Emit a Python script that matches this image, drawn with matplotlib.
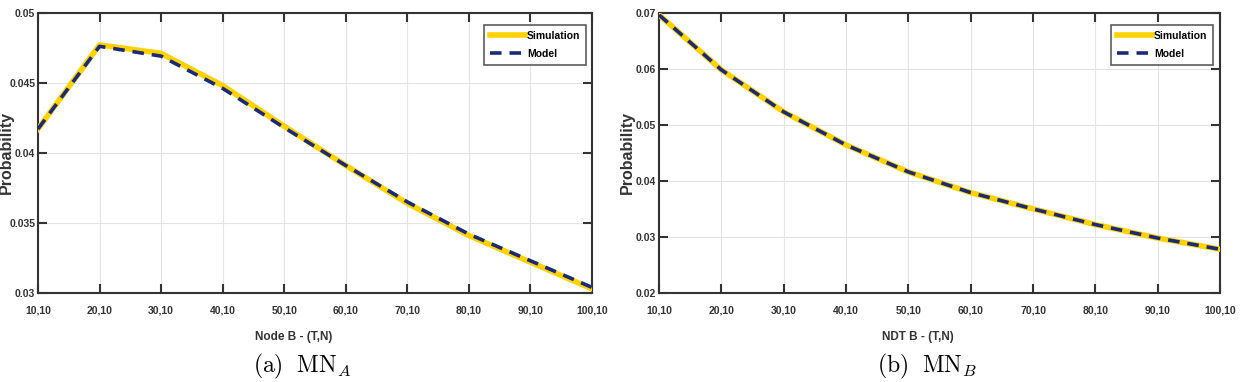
"""Two-panel probability vs (T,N) comparison: simulation vs model."""
import numpy as np
import matplotlib
matplotlib.use("Agg")
import matplotlib.pyplot as plt

plt.rcParams["font.family"] = ["Liberation Sans Narrow", "Liberation Sans", "DejaVu Sans"]
plt.rcParams["mathtext.fontset"] = "cm"

tn_labels = ["10,10", "20,10", "30,10", "40,10", "50,10",
             "60,10", "70,10", "80,10", "90,10", "100,10"]

sim_a = [0.0417, 0.0477, 0.0471, 0.0448, 0.0419, 0.0391, 0.0364, 0.0341, 0.0322, 0.0303]
model_a = [0.0417, 0.0476, 0.0469, 0.0446, 0.0418, 0.0391, 0.0365, 0.0342, 0.0323, 0.0304]

sim_b = [0.0696, 0.0598, 0.0523, 0.0464, 0.0416, 0.0379, 0.0350, 0.0322, 0.0298, 0.0278]
model_b = [0.0696, 0.0598, 0.0523, 0.0464, 0.0416, 0.0379, 0.0350, 0.0322, 0.0298, 0.0278]

YELLOW = "#FFD200"
NAVY = "#1B2A78"
DARK = "#333333"


def draw_panel(ax, sim, model, xlabel, ylim, yticks, yticklabels, leg_x):
    x = np.arange(len(tn_labels))
    ax.plot(x, sim, color=YELLOW, linewidth=4.0, label="Simulation", zorder=3)
    ax.plot(x, model, color=NAVY, linewidth=2.6, linestyle=(0, (3.2, 2.2)),
            label="Model", zorder=4)
    ax.set_xlim(0, len(tn_labels) - 1)
    ax.set_ylim(*ylim)
    ax.set_xticks(x, tn_labels)
    ax.set_yticks(yticks, yticklabels)
    ax.grid(True, color="#e4e4e4", linewidth=0.8)
    ax.set_axisbelow(True)
    ax.tick_params(direction="in", length=6.5, width=1.5, top=True, right=True,
                   labelsize=7.5, color=DARK)
    ax.tick_params(axis="x", pad=9)
    ax.tick_params(axis="y", pad=2)
    for lab in ax.get_xticklabels() + ax.get_yticklabels():
        lab.set_fontweight("bold")
        lab.set_color(DARK)
    for sp in ax.spines.values():
        sp.set_linewidth(1.5)
        sp.set_color(DARK)
    ax.set_xlabel(xlabel, fontsize=8.5, fontweight="bold", color=DARK)
    ax.xaxis.set_label_coords(0.462, -0.135)
    ax.set_ylabel("Probability", fontsize=11.5, fontweight="bold", color=DARK)
    ax.yaxis.set_label_coords(-0.044, 0.5)
    leg = ax.legend(loc="upper right", bbox_to_anchor=(leg_x, 0.956),
                    borderaxespad=0, fontsize=7.5, frameon=True, fancybox=False,
                    edgecolor=DARK, handlelength=3.4, labelspacing=0.8,
                    handletextpad=0.15, borderpad=0.55)
    leg.get_frame().set_linewidth(1.2)
    for t in leg.get_texts():
        t.set_fontweight("bold")


fig = plt.figure(figsize=(12.4, 3.82), dpi=100)
ax_a = fig.add_axes([0.0306, 0.233, 0.4468, 0.7338])
ax_b = fig.add_axes([0.5315, 0.233, 0.4524, 0.7338])

draw_panel(ax_a, sim_a, model_a, "Node B - (T,N)", (0.03, 0.05),
           [0.03, 0.035, 0.04, 0.045, 0.05],
           ["0.03", "0.035", "0.04", "0.045", "0.05"], 0.989)
draw_panel(ax_b, sim_b, model_b, "NDT B - (T,N)", (0.02, 0.07),
           [0.02, 0.03, 0.04, 0.05, 0.06, 0.07],
           ["0.02", "0.03", "0.04", "0.05", "0.06", "0.07"], 0.9875)

fig.text(0.2435, 0.025, r"$\mathrm{(a)\ \ MN}_A$", ha="center", fontsize=17)
fig.text(0.748, 0.025, r"$\mathrm{(b)\ \ MN}_B$", ha="center", fontsize=17)

fig.savefig("out.png", dpi=100)
